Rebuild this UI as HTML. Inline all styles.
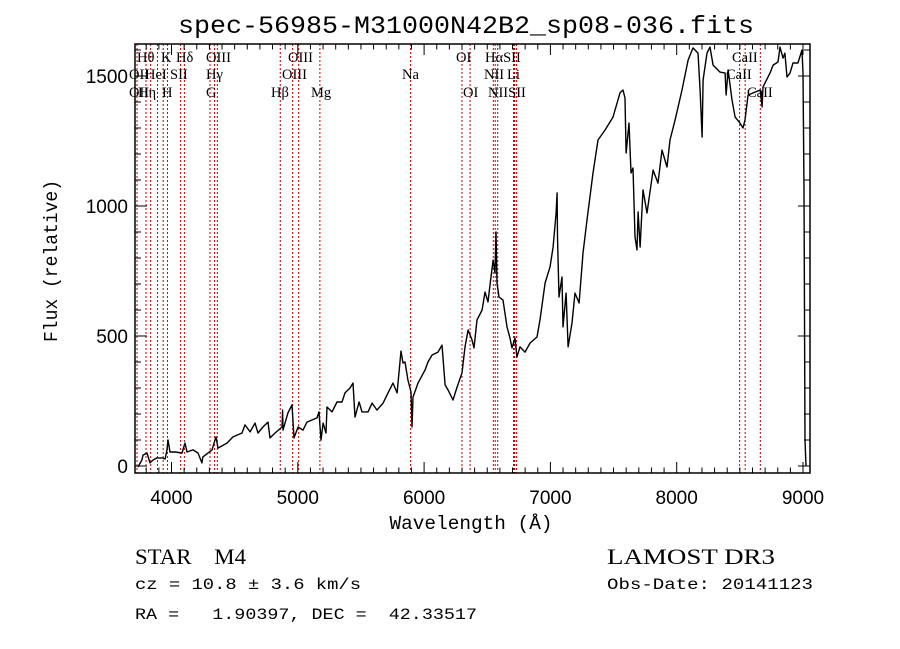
<!DOCTYPE html>
<html><head><meta charset="utf-8"><style>
html,body{margin:0;padding:0;background:#fff;}
svg{display:block;}
text{white-space:pre;}
</style></head><body>
<svg id="chart" width="900" height="649" xmlns="http://www.w3.org/2000/svg" xml:space="preserve">
<rect width="900" height="649" fill="#fff"/>
<text x="466" y="33" text-anchor="middle" font-family="Liberation Mono, monospace" font-size="25" textLength="576" lengthAdjust="spacingAndGlyphs">spec-56985-M31000N42B2_sp08-036.fits</text>
<g id="lines"></g>
<g id="series"></g>
<g id="axes"></g>
<text x="471" y="529" text-anchor="middle" font-family="Liberation Mono, monospace" font-size="19" textLength="163" lengthAdjust="spacingAndGlyphs">Wavelength (Å)</text>
<text transform="translate(57,261) rotate(-90)" text-anchor="middle" font-family="Liberation Mono, monospace" font-size="19" textLength="162" lengthAdjust="spacingAndGlyphs">Flux (relative)</text>
<text x="135" y="564" font-family="Liberation Serif, serif" font-size="22" textLength="111" lengthAdjust="spacingAndGlyphs">STAR    M4</text>
<text x="135" y="589" font-family="Liberation Mono, monospace" font-size="16" textLength="226" lengthAdjust="spacingAndGlyphs">cz = 10.8 ± 3.6 km/s</text>
<text x="135" y="619" font-family="Liberation Mono, monospace" font-size="16" textLength="342" lengthAdjust="spacingAndGlyphs">RA =   1.90397, DEC =  42.33517</text>
<text x="607" y="564" font-family="Liberation Serif, serif" font-size="22" textLength="168" lengthAdjust="spacingAndGlyphs">LAMOST DR3</text>
<text x="607" y="589" font-family="Liberation Mono, monospace" font-size="16" textLength="206" lengthAdjust="spacingAndGlyphs">Obs-Date: 20141123</text>
</svg>
<script>
const wavelengths = [3735,3766,3774,3806,3830,3854,3885,3925,3949,3964,3972,3988,4028,4083,4107,4123,4170,4210,4241,4249,4321,4352,4368,4439,4487,4558,4582,4622,4661,4685,4724,4764,4780,4820,4875,4880,4883,4922,4954,4970,5002,5041,5073,5152,5168,5184,5200,5223,5231,5271,5310,5350,5374,5413,5437,5453,5485,5508,5556,5588,5627,5675,5714,5754,5786,5817,5833,5849,5872,5896,5904,5912,5952,6007,6031,6063,6110,6142,6166,6190,6229,6261,6300,6324,6348,6379,6395,6419,6459,6482,6506,6522,6546,6561,6569,6577,6593,6625,6656,6680,6696,6720,6735,6759,6799,6839,6894,6918,6958,6997,7021,7045,7053,7056,7068,7092,7100,7124,7140,7171,7195,7227,7258,7290,7337,7377,7432,7496,7551,7575,7591,7599,7622,7638,7654,7670,7686,7694,7710,7733,7765,7813,7852,7884,7923,7947,7987,8042,8090,8129,8169,8185,8201,8209,8240,8264,8288,8343,8383,8391,8407,8438,8462,8501,8525,8541,8565,8620,8660,8676,8683,8739,8763,8802,8818,8842,8857,8873,8897,8921,8960,8992,9000,9008,9016,9024];
const fluxValues = [-4,23,42,50,12,23,31,31,27,62,100,54,54,50,88,54,62,50,12,35,62,112,69,88,112,127,158,131,165,127,150,169,108,127,150,215,138,204,235,108,150,138,169,185,208,100,165,127,227,208,246,246,281,300,319,188,246,208,208,242,215,242,281,319,281,442,396,400,331,285,150,265,319,369,400,427,438,465,312,292,254,304,358,458,523,485,454,562,600,669,631,696,792,742,900,704,650,638,535,492,454,492,419,458,438,473,496,562,704,765,842,973,1050,881,650,727,535,665,458,550,665,627,819,946,1127,1254,1292,1342,1435,1446,1415,1204,1319,1127,1146,881,831,977,842,1062,973,1138,1088,1215,1150,1254,1331,1446,1561,1608,1588,1446,1265,1485,1588,1611,1542,1515,1511,1427,1523,1408,1342,1319,1300,1331,1427,1438,1446,1381,1458,1511,1542,1554,1611,1569,1588,1496,1511,1550,1550,1600,1511,1062,100,0];
const xTickValues = [4000,5000,6000,7000,8000,9000];
const yTickValues = [0,500,1000,1500];
const lineWavelengths = [3727,3798,3835,3889,3934,3968,4072,4102,4305,4340,4363,4861,4959,5007,5175,5893,6300,6364,6548,6563,6583,6708,6716,6731,8498,8542,8662];
const lineLabels = ["Hθ","OII","OII","Hη","HeI","K","H","SII","Hδ","OIII","Hγ","G","OIII","OIII","Hβ","Mg","Na","OI","OI","HαSII","NII","Li","NIISII","CaII","CaII","CaII"];
const lineLabelX = [137,129,129,138,145,161,162,170,176,206,206,206,288,282,271,311,402,456,463,485,484,507,488,732,726,747];
const lineLabelRow = [0,1,2,2,1,0,2,1,0,0,1,2,0,1,2,2,1,0,2,0,1,1,2,0,1,2];

const L=135,R=810,T=44,B=473;
function xs(w){return 171.5+(w-4000)*0.12630;}
function ys(f){return 466-f*0.26;}
const NS="http://www.w3.org/2000/svg";
function mk(tag,attrs,parent){const e=document.createElementNS(NS,tag);for(const k in attrs)e.setAttribute(k,attrs[k]);parent.appendChild(e);return e;}
const svg=document.getElementById('chart');
const defs=mk('defs',{},svg);
const cp=mk('clipPath',{id:'clip'},defs);
mk('rect',{x:L,y:T,width:R-L,height:B-T},cp);

const lg=document.getElementById('lines');
lineWavelengths.forEach(w=>{
  const ln=mk('line',{x1:xs(w),x2:xs(w),y1:T,y2:B,stroke:'#c00000','stroke-width':1,'stroke-dasharray':'2,2'},lg);
  
  
});
const rowsY=[62,79,97];
lineLabels.forEach((t,i)=>{
  const tx=mk('text',{x:lineLabelX[i],y:rowsY[lineLabelRow[i]],'font-family':'Liberation Serif, serif','font-size':14.5},lg);
  tx.textContent=t;
  
  
});

const sg=document.getElementById('series');
let d='';
wavelengths.forEach((w,i)=>{d+=(i?'L':'M')+xs(w).toFixed(1)+','+ys(fluxValues[i]).toFixed(1);});
const p=mk('path',{d:d,fill:'none',stroke:'#000','stroke-width':1.4,'clip-path':'url(#clip)','stroke-linejoin':'round'},sg);



const ag=document.getElementById('axes');
const fr=mk('rect',{x:L,y:T,width:R-L,height:B-T,fill:'none',stroke:'#000','stroke-width':1.5},ag);


for(let w=3800;w<=9000;w+=100){
  const x=xs(w); if(x<L||x>R)continue;
  const major=(w%1000===0); const len=major?11:5.5;
  mk('line',{x1:x,x2:x,y1:B,y2:B-len,stroke:'#000','stroke-width':1},ag);
  mk('line',{x1:x,x2:x,y1:T,y2:T+len,stroke:'#000','stroke-width':1},ag);
}
for(let f=0;f<=1600;f+=100){
  const y=ys(f); if(y<T||y>B)continue;
  const major=(f%500===0); const len=major?12:6;
  mk('line',{x1:L,x2:L+len,y1:y,y2:y,stroke:'#000','stroke-width':1},ag);
  mk('line',{x1:R,x2:R-len,y1:y,y2:y,stroke:'#000','stroke-width':1},ag);
}
xTickValues.forEach(v=>{
  const t=mk('text',{x:xs(v),y:504,'text-anchor':'middle','font-family':'Liberation Sans, sans-serif','font-size':19},ag);
  t.textContent=v;
  
  
});
yTickValues.forEach(v=>{
  const t=mk('text',{x:128,y:ys(v)+7,'text-anchor':'end','font-family':'Liberation Sans, sans-serif','font-size':19},ag);
  t.textContent=v;
  
  
});
</script>
</body></html>
